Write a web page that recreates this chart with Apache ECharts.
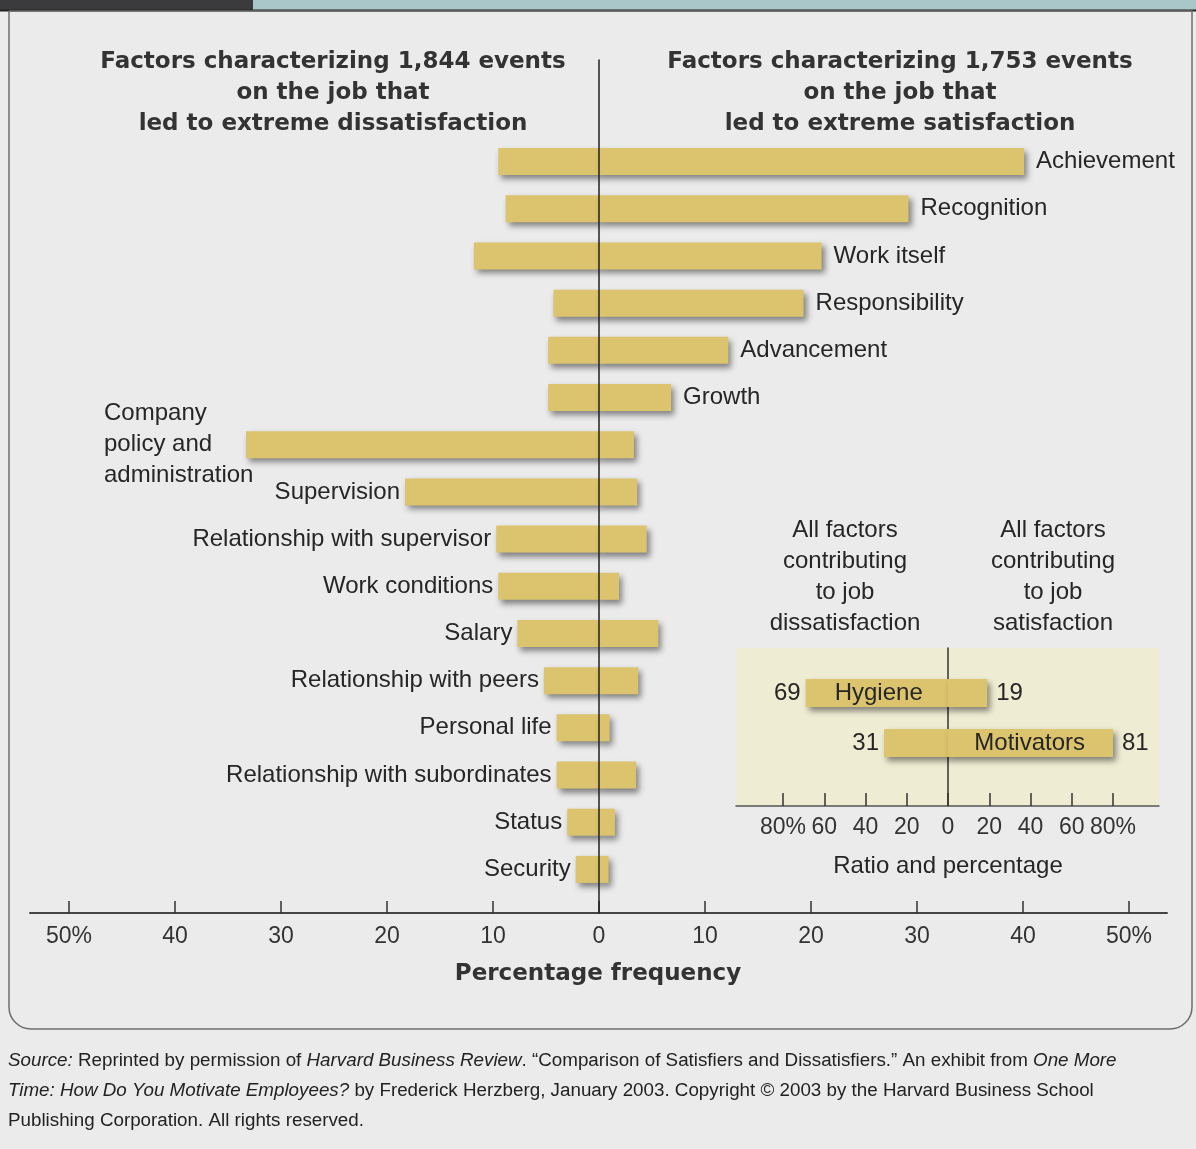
<!DOCTYPE html>
<html><head><meta charset="utf-8">
<script src="https://cdn.jsdelivr.net/npm/echarts@6/dist/echarts.min.js"></script>
<style>html,body{margin:0;padding:0;background:#ebebeb}#c{width:1196px;height:1149px}</style>
</head><body><div id="c"></div>
<script>
// ---- data ----
const factors = ['Achievement','Recognition','Work itself','Responsibility','Advancement','Growth',
  'Company\npolicy and\nadministration','Supervision','Relationship with supervisor','Work conditions','Salary',
  'Relationship with peers','Personal life','Relationship with subordinates','Status','Security'];
const dissatisfaction = [9.5, 8.8, 11.8, 4.3, 4.8, 4.8, 33.3, 18.3, 9.7, 9.5, 7.7, 5.2, 4.0, 4.0, 3.0, 2.2];
const satisfaction    = [40.1, 29.2, 21.0, 19.3, 12.2, 6.8, 3.3, 3.6, 4.5, 1.9, 5.6, 3.7, 1.0, 3.5, 1.5, 0.9];
const motivatorCount = 6;
const summaryGroups = ['Hygiene','Motivators'];
const summaryDissatisfaction = [69, 31];
const summarySatisfaction = [19, 81];

// ---- style ----
const GOLD = '#dcc46e';
const INK = '#262626';
const LABEL_FONT = 'Liberation Sans';
const barStyle = { color: GOLD, shadowColor: 'rgba(0,0,0,0.45)', shadowBlur: 6, shadowOffsetX: 3, shadowOffsetY: 4 };
const labelBase = { fontFamily: LABEL_FONT, fontSize: 24, color: INK };

const chart = echarts.init(document.getElementById('c'), null, { renderer: 'canvas' });

const mainDisData = dissatisfaction.map((v, i) => {
  let label = { show: false };
  if (i >= motivatorCount) {
    label = i === motivatorCount
      ? { show: true, position: [-142, '50%'], align: 'left', verticalAlign: 'middle', lineHeight: 31 }
      : { show: true, position: 'left', distance: 5 };
  }
  return { value: -v, label };
});
const mainSatData = satisfaction.map((v, i) => ({
  value: v,
  label: i < motivatorCount ? { show: true, position: 'right', distance: 12 } : { show: false }
}));

const hidden = { show: false };
const noGrid = { outerBoundsMode: 'none', containLabel: false };

const option = {
  backgroundColor: '#ebebeb',
  animation: false,
  grid: [
    Object.assign({ left: 69, right: 67, top: 60, bottom: 236 }, noGrid),          // 0 main ticks + centre line
    Object.assign({ left: 30, right: 29, top: 60, bottom: 236 }, noGrid),          // 1 long axis line
    Object.assign({ left: 69, right: 67, top: 138, height: 755 }, noGrid),         // 2 main bars
    Object.assign({ left: 736, right: 37, top: 648, bottom: 343, show: true, backgroundColor: '#eeecd2', borderWidth: 0, z: -1 }, noGrid), // 3 inset bg
    Object.assign({ left: 783, right: 83, top: 648, bottom: 343 }, noGrid),        // 4 inset ticks
    Object.assign({ left: 783, right: 83, top: 668, height: 100 }, noGrid)         // 5 inset bars
  ],
  xAxis: [
    { gridIndex: 0, type: 'value', min: -50, max: 50, interval: 10, z: 3,
      axisLine: { show: false },
      axisTick: { show: true, inside: true, length: 12, lineStyle: { color: '#333', width: 1.5 } },
      axisLabel: { margin: 12, fontFamily: LABEL_FONT, fontSize: 23, color: '#333',
        formatter: v => Math.abs(v) + (Math.abs(v) === 50 ? '%' : '') },
      splitLine: { show: false } },
    { gridIndex: 1, type: 'value', min: 0, max: 1, z: 3,
      axisLine: { show: true, onZero: false, lineStyle: { color: '#444', width: 2 } },
      axisTick: hidden, axisLabel: hidden, splitLine: hidden },
    { gridIndex: 2, type: 'value', min: -50, max: 50, show: false },
    { gridIndex: 3, type: 'value', min: 0, max: 1, z: 1,
      axisLine: { show: true, onZero: false, lineStyle: { color: '#555', width: 1.5 } },
      axisTick: hidden, axisLabel: hidden, splitLine: hidden },
    { gridIndex: 4, type: 'value', min: -80, max: 80, interval: 20, z: 1,
      axisLine: { show: false },
      axisTick: { show: true, inside: true, length: 13, lineStyle: { color: '#333', width: 1.5 } },
      axisLabel: { margin: 10, fontFamily: LABEL_FONT, fontSize: 23, color: '#333',
        formatter: v => Math.abs(v) + (Math.abs(v) === 80 ? '%' : '') },
      splitLine: { show: false } },
    { gridIndex: 5, type: 'value', min: -80, max: 80, show: false }
  ],
  yAxis: [
    { gridIndex: 0, type: 'value', min: 0, max: 1, z: 5,
      axisLine: { show: true, onZero: true, lineStyle: { color: '#222', width: 1.5 } },
      axisTick: hidden, axisLabel: hidden, splitLine: hidden },
    { gridIndex: 1, type: 'value', min: 0, max: 1, show: false },
    { gridIndex: 2, type: 'category', data: factors, inverse: true, show: false },
    { gridIndex: 3, type: 'value', min: 0, max: 1, show: false },
    { gridIndex: 4, type: 'value', min: 0, max: 1, z: 1,
      axisLine: { show: true, onZero: true, lineStyle: { color: '#333', width: 1.5 } },
      axisTick: hidden, axisLabel: hidden, splitLine: hidden },
    { gridIndex: 5, type: 'category', data: summaryGroups, inverse: true, show: false }
  ],
  series: [
    { name: 'Dissatisfaction', type: 'bar', xAxisIndex: 2, yAxisIndex: 2, barWidth: 27, barGap: '-100%',
      itemStyle: barStyle, data: mainDisData,
      label: Object.assign({ show: false, formatter: p => factors[p.dataIndex] }, labelBase) },
    { name: 'Satisfaction', type: 'bar', xAxisIndex: 2, yAxisIndex: 2, barWidth: 27, barGap: '-100%',
      itemStyle: barStyle, data: mainSatData,
      label: Object.assign({ show: false, formatter: p => factors[p.dataIndex] }, labelBase) },
    { name: 'All dissatisfaction', type: 'bar', xAxisIndex: 5, yAxisIndex: 5, barWidth: 28, barGap: '-100%', z: 3,
      itemStyle: barStyle, data: summaryDissatisfaction.map(v => -v),
      label: Object.assign({ show: true, position: 'left', distance: 5,
        formatter: p => String(summaryDissatisfaction[p.dataIndex]) }, labelBase) },
    { name: 'All satisfaction', type: 'bar', xAxisIndex: 5, yAxisIndex: 5, barWidth: 28, barGap: '-100%', z: 3,
      itemStyle: barStyle, data: summarySatisfaction,
      label: Object.assign({ show: true, position: 'right', distance: 9,
        formatter: p => String(summarySatisfaction[p.dataIndex]) }, labelBase) },
    { name: 'Group names', type: 'bar', xAxisIndex: 5, yAxisIndex: 5, barWidth: 28, barGap: '-100%', z: 4, silent: true,
      itemStyle: { color: 'rgba(0,0,0,0)' },
      data: [
        { value: -summaryDissatisfaction[0], label: { position: 'insideLeft', distance: 29 } },
        { value: summarySatisfaction[1], label: { position: 'insideRight', distance: 28 } }
      ],
      label: Object.assign({ show: true, formatter: p => summaryGroups[p.dataIndex] }, labelBase) }
  ],
  graphic: [
    { type: 'rect', z: -10, shape: { x: 0, y: 0, width: 253, height: 10 }, style: { fill: '#3b3b3d' } },
    { type: 'rect', z: -10, shape: { x: 253, y: 0, width: 943, height: 10 }, style: { fill: '#a9c6c8' } },
    { type: 'line', z: -9, shape: { x1: 0, y1: 10.5, x2: 1196, y2: 10.5 }, style: { stroke: '#222', lineWidth: 2 } },
    { type: 'rect', z: -9, shape: { x: 9, y: 11, width: 1183, height: 1018, r: [0, 0, 22, 22] },
      style: { fill: null, stroke: '#6e6e6e', lineWidth: 1.5 } },
    { type: 'text', x: 333, y: 47, style: { text: 'Factors characterizing 1,844 events\non the job that\nled to extreme dissatisfaction',
      align: 'center', verticalAlign: 'top', fontFamily: 'DejaVu Sans', fontWeight: 'bold', fontSize: 23, lineHeight: 31, fill: '#333' } },
    { type: 'text', x: 900, y: 47, style: { text: 'Factors characterizing 1,753 events\non the job that\nled to extreme satisfaction',
      align: 'center', verticalAlign: 'top', fontFamily: 'DejaVu Sans', fontWeight: 'bold', fontSize: 23, lineHeight: 31, fill: '#333' } },
    { type: 'text', x: 598, y: 974, style: { text: 'Percentage frequency', align: 'center', verticalAlign: 'middle',
      fontFamily: 'DejaVu Sans', fontWeight: 'bold', fontSize: 23, fill: '#333' } },
    { type: 'text', x: 845, y: 515, style: { text: 'All factors\ncontributing\nto job\ndissatisfaction', align: 'center', verticalAlign: 'top',
      fontFamily: LABEL_FONT, fontSize: 24, lineHeight: 31, fill: INK } },
    { type: 'text', x: 1053, y: 515, style: { text: 'All factors\ncontributing\nto job\nsatisfaction', align: 'center', verticalAlign: 'top',
      fontFamily: LABEL_FONT, fontSize: 24, lineHeight: 31, fill: INK } },
    { type: 'text', x: 948, y: 866, style: { text: 'Ratio and percentage', align: 'center', verticalAlign: 'middle',
      fontFamily: LABEL_FONT, fontSize: 24, fill: INK } },
    { type: 'text', x: 8, y: 1046, style: {
      text: '{i|Source:}{n| Reprinted by permission of }{i|Harvard Business Review}{n|. \u201cComparison of Satisfiers and Dissatisfiers.\u201d An exhibit from }{i|One More}\n' +
            '{i|Time: How Do You Motivate Employees?}{n| by Frederick Herzberg, January 2003. Copyright \u00a9 2003 by the Harvard Business School}\n' +
            '{n|Publishing Corporation. All rights reserved.}',
      align: 'left', verticalAlign: 'top', fill: '#222',
      rich: {
        n: { fontFamily: LABEL_FONT, fontSize: 18.8, lineHeight: 30, fill: '#222' },
        i: { fontFamily: LABEL_FONT, fontSize: 18.8, lineHeight: 30, fontStyle: 'italic', fill: '#222' }
      } } }
  ]
};
chart.setOption(option);
</script>
</body></html>
